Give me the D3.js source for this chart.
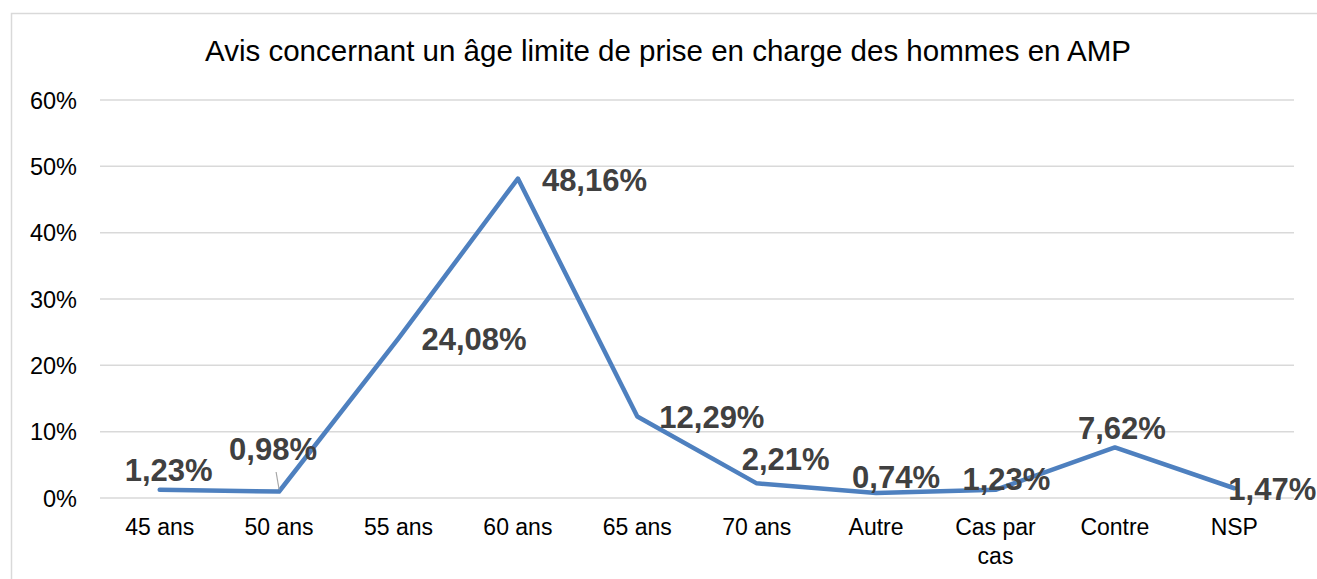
<!DOCTYPE html>
<html>
<head>
<meta charset="utf-8">
<script src="https://cdn.jsdelivr.net/npm/d3@7"></script>
<style>
  body { margin: 0; background: #fff; }
  text { font-family: "Liberation Sans", Arial, Helvetica, sans-serif; }
</style>
</head>
<body>
<svg id="chart" width="1317" height="579"></svg>
<script>
// data
const categories = ["45 ans", "50 ans", "55 ans", "60 ans", "65 ans", "70 ans", "Autre", "Cas par cas", "Contre", "NSP"]
const values = [1.23, 0.98, 24.08, 48.16, 12.29, 2.21, 0.74, 1.23, 7.62, 1.47]
const yTicks = [0, 10, 20, 30, 40, 50, 60]
const title = "Avis concernant un âge limite de prise en charge des hommes en AMP"

// where each data label sits relative to its point (text-anchor start, dx, dy to baseline)
const labelShift = [
  [-35, -9], [-50, -31], [23, 12], [24, 12], [22, 12], [-15, -13], [-24, -5], [-33, 0], [-37, -8], [-6, 12]
]

const svg = d3.select("#chart")
const margin = {left: 100, right: 1294, top: 100, bottom: 498}

svg.append("rect")
  .attr("x", 11.5).attr("y", 13.5)
  .attr("width", 1320).attr("height", 600)
  .attr("fill", "none").attr("stroke", "#d9d9d9").attr("stroke-width", 1.5)

var x = d3.scaleBand().domain(categories).range([margin.left, margin.right])
var y = d3.scaleLinear().domain([0, 60]).range([margin.bottom, margin.top])

// gridlines
svg.append("g")
  .selectAll("line").data(yTicks).enter().append("line")
  .attr("x1", margin.left).attr("x2", margin.right)
  .attr("y1", d => y(d)).attr("y2", d => y(d))
  .attr("stroke", "#d9d9d9").attr("stroke-width", 1.5)

// y axis labels
var yAxis = d3.axisLeft(y).tickValues(yTicks).tickFormat(d => d + "%").tickSize(0).tickPadding(0)
var gy = svg.append("g").attr("transform", "translate(77,0)").call(yAxis)
gy.select(".domain").remove()
gy.selectAll("text").attr("font-size", 23.5).attr("fill", "#000").attr("dy", "0.35em")
  .style("font-family", '"Liberation Sans", Arial, sans-serif')

// x axis labels
var xl = svg.append("g").selectAll("text").data(categories).enter().append("text")
  .attr("x", d => x(d) + x.bandwidth() / 2)
  .attr("y", 535)
  .attr("text-anchor", "middle")
  .attr("font-size", 23)
  .attr("fill", "#000")
xl.each(function(d) {
  var t = d3.select(this)
  var parts = d == "Cas par cas" ? ["Cas par", "cas"] : [d]
  parts.forEach((p, i) => {
    t.append("tspan").attr("x", x(d) + x.bandwidth() / 2).attr("dy", i == 0 ? 0 : 29).text(p)
  })
})

// line
var line = d3.line()
  .x((d, i) => x(categories[i]) + x.bandwidth() / 2)
  .y(d => y(d))

svg.append("path")
  .datum(values)
  .attr("d", line)
  .attr("fill", "none")
  .attr("stroke", "#4e80bf")
  .attr("stroke-width", 4.5)
  .attr("stroke-linejoin", "round")
  .attr("stroke-linecap", "round")

// leader line for 0,98%
svg.append("line")
  .attr("x1", x(categories[1]) + x.bandwidth() / 2 - 3).attr("y1", 472)
  .attr("x2", x(categories[1]) + x.bandwidth() / 2).attr("y2", y(values[1]) - 2)
  .attr("stroke", "#a6a6a6").attr("stroke-width", 1.2)

// data labels
var fmt = v => v.toFixed(2).replace(".", ",") + "%"
svg.append("g").selectAll("text").data(values).enter().append("text")
  .attr("x", (d, i) => x(categories[i]) + x.bandwidth() / 2 + labelShift[i][0])
  .attr("y", (d, i) => y(d) + labelShift[i][1])
  .attr("font-size", 31)
  .attr("font-weight", "bold")
  .attr("fill", "#404040")
  .text(fmt)

// title
svg.append("text")
  .attr("x", 668).attr("y", 61)
  .attr("text-anchor", "middle")
  .attr("font-size", 29.5)
  .attr("fill", "#000")
  .text(title)
</script>
</body>
</html>
